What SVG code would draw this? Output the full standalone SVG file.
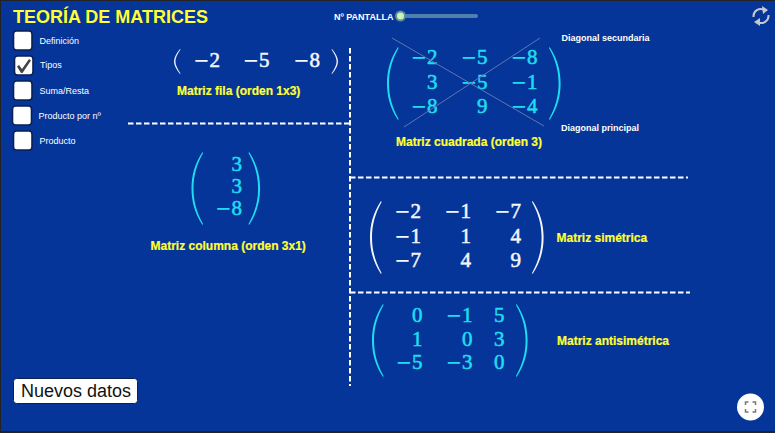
<svg xmlns="http://www.w3.org/2000/svg" xmlns:xlink="http://www.w3.org/1999/xlink" width="775" height="433" viewBox="0 0 775 433">
<style>
text{font-family:"Liberation Sans",Arial,sans-serif}
.t{fill:#ffff33;stroke:#ffff33;stroke-width:.2px;font-weight:bold;font-size:12px}
.w{fill:#fff;font-size:9px}
.wb{fill:#fff;font-size:9px;font-weight:bold}
.m{font-family:"Liberation Serif","Times New Roman",serif;font-size:21px;text-anchor:end;stroke-width:.55px}
.mn{font-family:"DejaVu Sans",sans-serif;font-size:19.500px;stroke-width:0}
.c{fill:#1fdcf0;stroke:#1fdcf0}
.s{fill:#f4f6fa;stroke:#f4f6fa}
.pc{fill:#1fdcf0}
.ps{fill:#f4f6fa}
.box{fill:#fff;stroke:#0a2050;stroke-width:1.600}
.d{stroke:#fff;stroke-width:2;stroke-dasharray:5.500 2.500;fill:none}
.dg{stroke:#6076b2;stroke-width:1;fill:none}
</style>
<defs>
<path id="pl" d="M11 0C3 12 0 24 0 36.500C0 49 3 61 11 73L11.600 72C5 60 2 49 2 36.500C2 24 5 13 11.600 1Z"/>
<path id="pr" d="M.6 0C8.600 12 11.600 24 11.600 36.500C11.600 49 8.600 61 .6 73L0 72C6.600 60 9.600 49 9.600 36.500C9.600 24 6.600 13 0 1Z"/>
</defs>
<rect width="775" height="433" fill="#222"/>
<rect x="1" y="1" width="774" height="430" fill="#06359a"/>
<text id="title" x="13" y="23" font-size="18" font-weight="bold" fill="#ffff33">TEORÍA DE MATRICES</text>
<g id="chk-definicion"><rect class="box" x="13.500" y="31" width="18.500" height="19" rx="3"/><text class="w" x="39.500" y="43.500">Definición</text></g>
<g id="chk-tipos"><rect class="box" x="14.500" y="56" width="18.500" height="19" rx="3"/><path d="M17 66.500L19 65L22 69L29 59L31 60.500L22.500 73H21Z" fill="#444"/><text class="w" x="40" y="68">Tipos</text></g>
<g id="chk-suma"><rect class="box" x="13.500" y="81" width="18.500" height="19" rx="3"/><text class="w" x="39.500" y="93.500">Suma/Resta</text></g>
<g id="chk-prodn"><rect class="box" x="12.500" y="106" width="19" height="19" rx="3"/><text class="w" x="38.500" y="118.500">Producto por nº</text></g>
<g id="chk-producto"><rect class="box" x="13.500" y="131" width="18.500" height="19" rx="3"/><text class="w" x="39.500" y="143.500">Producto</text></g>
<g id="slider"><text class="wb" x="334" y="20">Nº PANTALLA</text><line x1="400" y1="16" x2="476" y2="16" stroke="#4f80ad" stroke-width="4" stroke-linecap="round"/><circle cx="400.500" cy="16" r="4.500" fill="#c9f5b8" stroke="#5f8d99" stroke-width="2"/></g>
<g id="reload" fill="none" stroke="#c8c8c8" stroke-width="2"><path d="M753.500 17C753 11 759 7 765 10M768.500 15C769 21 763 25 757 22"/><path d="M762 6L768 10L763 14Z" fill="#c8c8c8" stroke="none"/><path d="M760 18L754 22L760 26Z" fill="#c8c8c8" stroke="none"/></g>
<g id="connectors">
<line class="d" x1="128" y1="123.500" x2="350" y2="123.500"/>
<line class="d" x1="350" y1="48" x2="350" y2="386"/>
<line class="d" x1="350" y1="177.500" x2="688" y2="177.500"/>
<line class="d" x1="350" y1="292.500" x2="690" y2="292.500"/>
</g>
<g id="matriz-fila">
<path class="ps" d="M180 49C176 54 174 58 174 61.500C174 65 176 69 180 74L180.500 73.400C177.500 69 175.400 65 175.400 61.500C175.400 58 177.500 54 180.500 49.600Z"/>
<path class="ps" d="M332 49C336 54 338 58 338 61.500C338 65 336 69 332 74L331.500 73.400C334.500 69 336.600 65 336.600 61.500C336.600 58 334.500 54 331.500 49.600Z"/>
<text class="m s" x="220" y="67"><tspan class="mn">−</tspan>2</text><text class="m s" x="269.500" y="67"><tspan class="mn">−</tspan>5</text><text class="m s" x="320" y="67"><tspan class="mn">−</tspan>8</text>
<text class="t" x="177" y="95">Matriz fila (orden 1x3)</text>
</g>
<g id="matriz-cuadrada">
<use class="pc" xlink:href="#pl" href="#pl" x="387" y="47"/><use class="pc" xlink:href="#pr" href="#pr" x="549" y="47"/>
<text class="m c" x="437.500" y="64"><tspan class="mn">−</tspan>2</text><text class="m c" x="487.500" y="64"><tspan class="mn">−</tspan>5</text><text class="m c" x="537.500" y="64"><tspan class="mn">−</tspan>8</text>
<text class="m c" x="437.500" y="88.500">3</text><text class="m c" x="487.500" y="88.500"><tspan class="mn">−</tspan>5</text><text class="m c" x="537.500" y="88.500"><tspan class="mn">−</tspan>1</text>
<text class="m c" x="437.500" y="113"><tspan class="mn">−</tspan>8</text><text class="m c" x="487.500" y="113">9</text><text class="m c" x="537.500" y="113"><tspan class="mn">−</tspan>4</text>
<line class="dg" x1="392" y1="38" x2="544" y2="126"/><line class="dg" x1="540" y1="38" x2="404" y2="127"/>
<text class="wb" x="561.500" y="41">Diagonal secundaria</text>
<text class="wb" x="561" y="131">Diagonal principal</text>
<text class="t" x="396" y="146">Matriz cuadrada (orden 3)</text>
</g>
<g id="matriz-columna">
<use class="pc" xlink:href="#pl" href="#pl" x="191.500" y="152"/><use class="pc" xlink:href="#pr" href="#pr" x="248.500" y="152"/>
<text class="m c" x="242" y="171">3</text><text class="m c" x="242" y="193">3</text><text class="m c" x="242" y="215"><tspan class="mn">−</tspan>8</text>
<text class="t" x="150.500" y="250">Matriz columna (orden 3x1)</text>
</g>
<g id="matriz-simetrica">
<use class="ps" xlink:href="#pl" href="#pl" x="370" y="201"/><use class="ps" xlink:href="#pr" href="#pr" x="532" y="201"/>
<text class="m s" x="421" y="218"><tspan class="mn">−</tspan>2</text><text class="m s" x="471" y="218"><tspan class="mn">−</tspan>1</text><text class="m s" x="521" y="218"><tspan class="mn">−</tspan>7</text>
<text class="m s" x="421" y="243"><tspan class="mn">−</tspan>1</text><text class="m s" x="471" y="243">1</text><text class="m s" x="521" y="243">4</text>
<text class="m s" x="421" y="267"><tspan class="mn">−</tspan>7</text><text class="m s" x="471" y="267">4</text><text class="m s" x="521" y="267">9</text>
<text class="t" x="556.500" y="242">Matriz simétrica</text>
</g>
<g id="matriz-antisimetrica">
<use class="pc" xlink:href="#pl" href="#pl" x="372" y="304"/><use class="pc" xlink:href="#pr" href="#pr" x="516" y="304"/>
<text class="m c" x="422.500" y="322">0</text><text class="m c" x="472.500" y="322"><tspan class="mn">−</tspan>1</text><text class="m c" x="504.500" y="322">5</text>
<text class="m c" x="422.500" y="346">1</text><text class="m c" x="472.500" y="346">0</text><text class="m c" x="504.500" y="346">3</text>
<text class="m c" x="422.500" y="369"><tspan class="mn">−</tspan>5</text><text class="m c" x="472.500" y="369"><tspan class="mn">−</tspan>3</text><text class="m c" x="504.500" y="369">0</text>
<text class="t" x="557" y="345">Matriz antisimétrica</text>
</g>
<g id="btn-nuevos"><rect x="13.500" y="378.500" width="124" height="25" rx="3" fill="#fff" stroke="#0a2050"/><text x="21" y="396.500" font-size="18" fill="#111">Nuevos datos</text></g>
<g id="fullscreen"><circle cx="750.500" cy="407" r="13.500" fill="#fff"/><path d="M745.500 405V402H748.500M752.500 402H755.500V405M755.500 409V412H752.500M748.500 412H745.500V409" fill="none" stroke="#777" stroke-width="1.500"/></g>
</svg>
